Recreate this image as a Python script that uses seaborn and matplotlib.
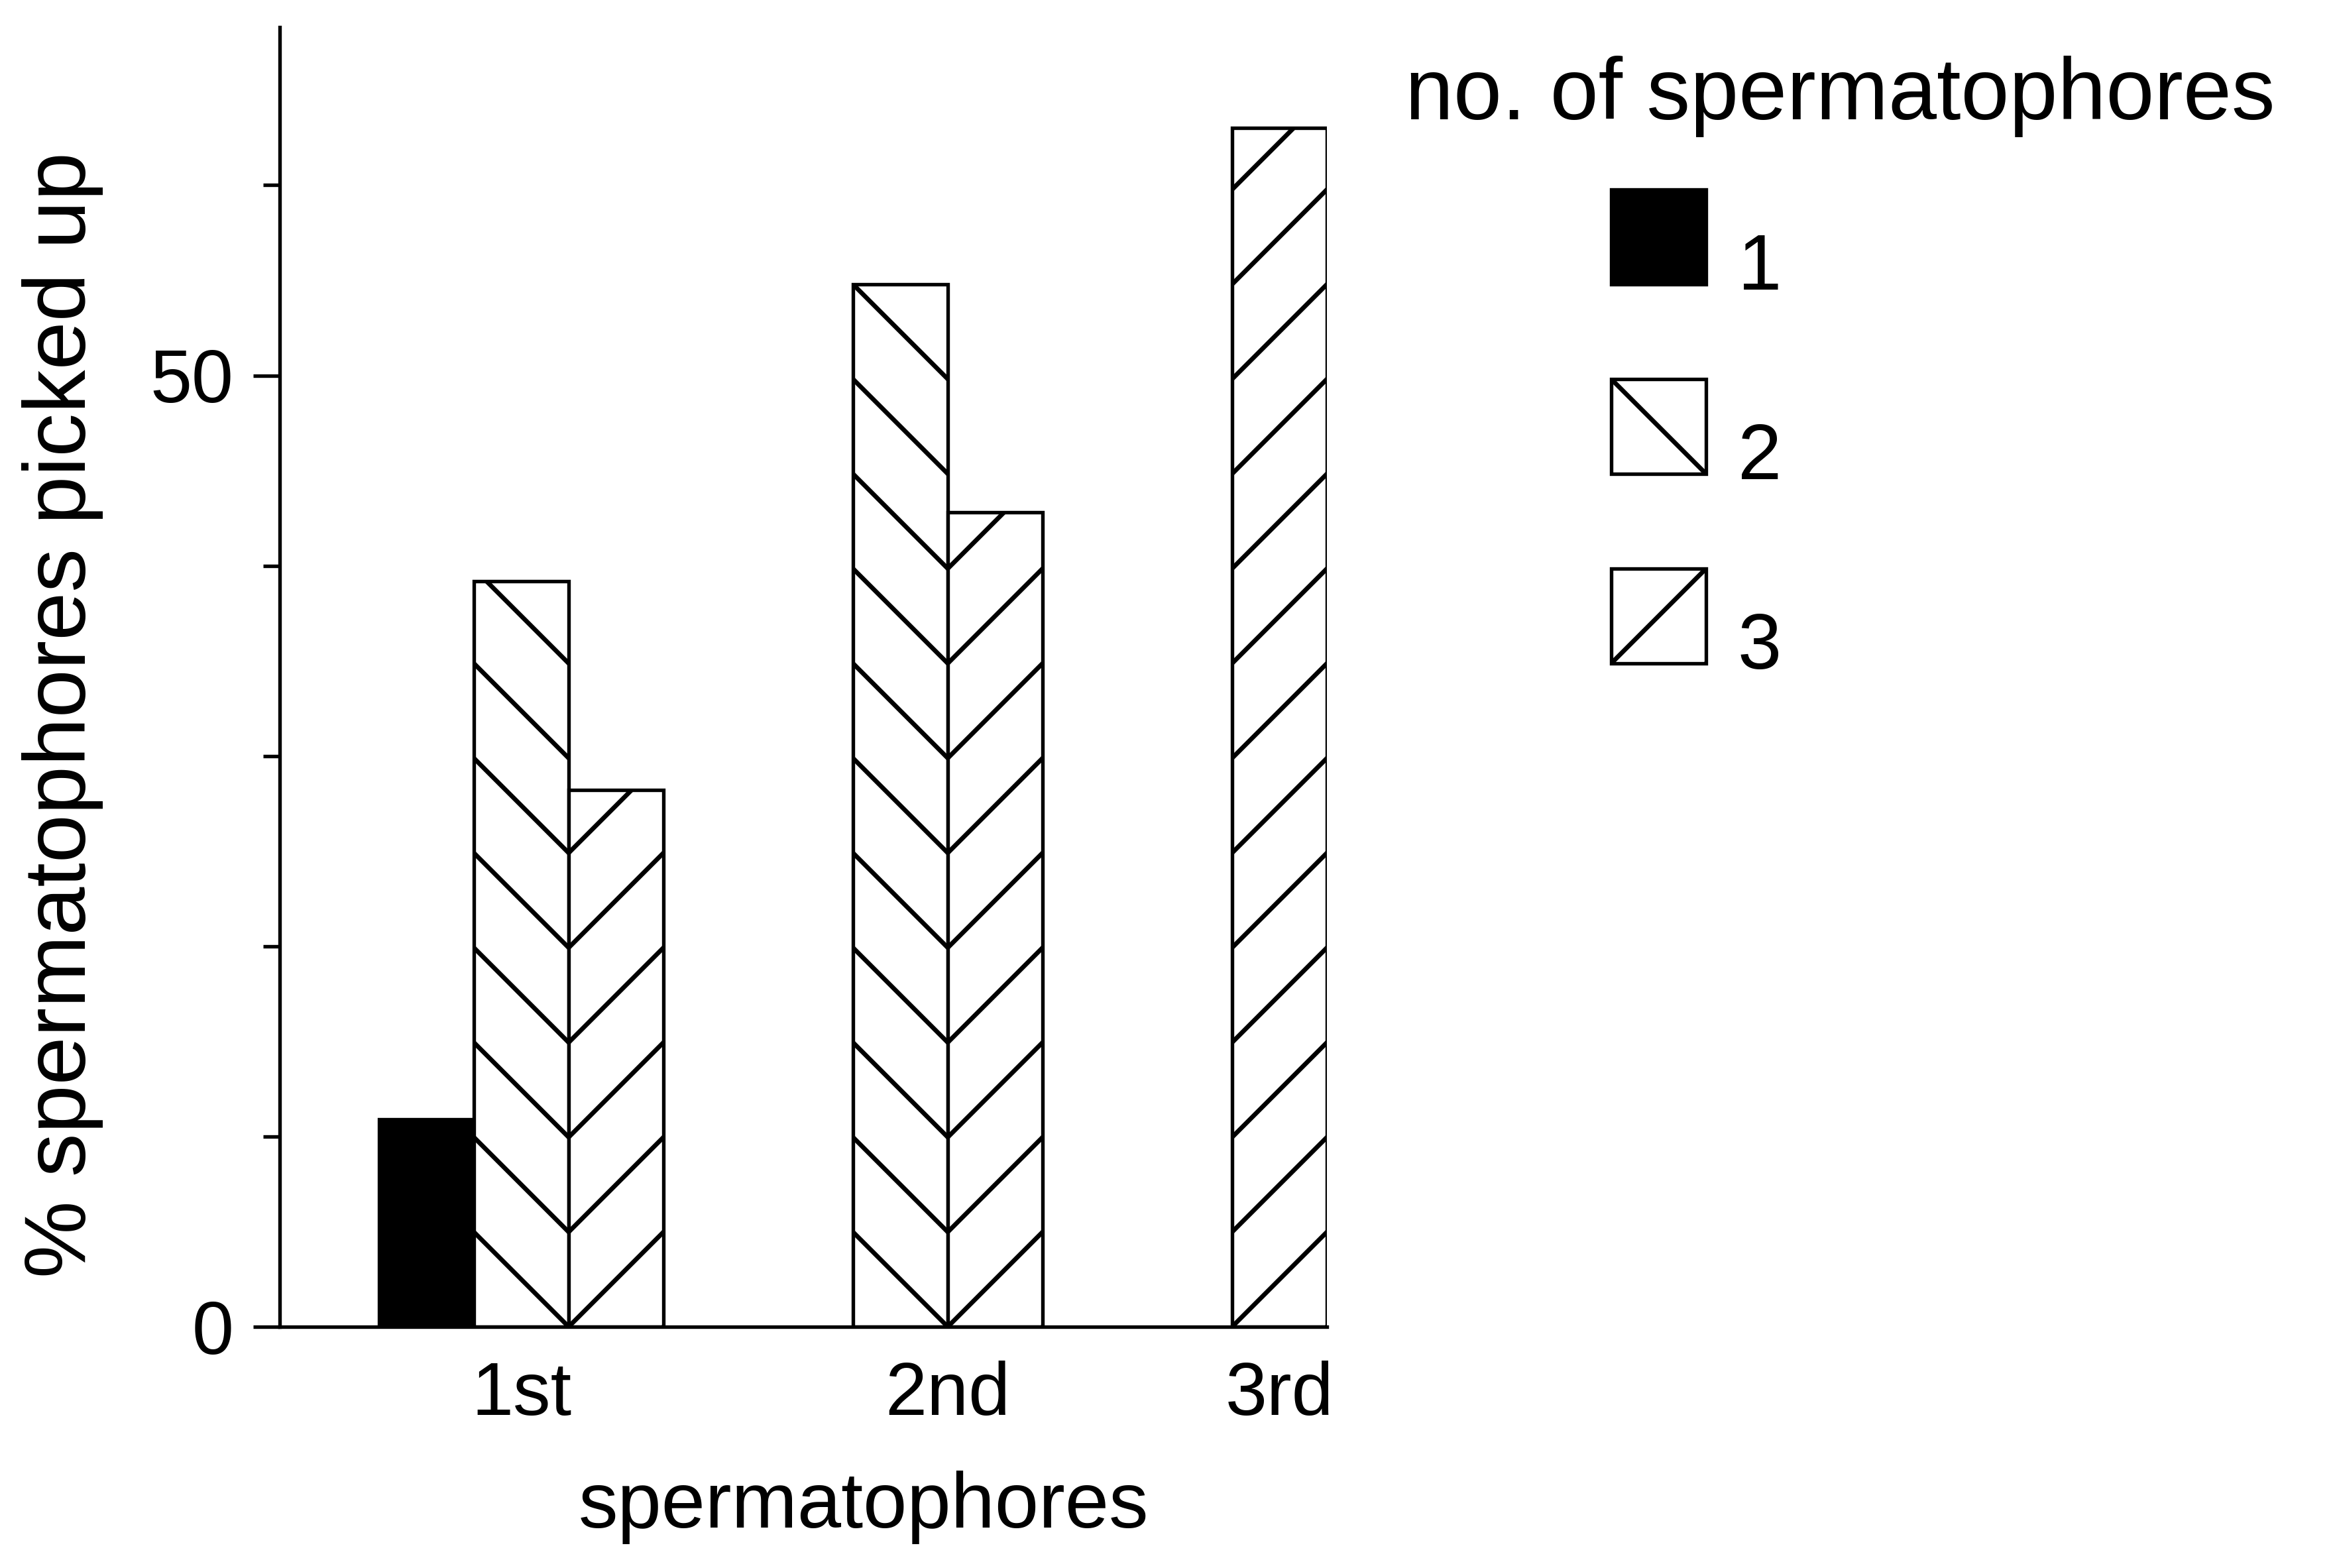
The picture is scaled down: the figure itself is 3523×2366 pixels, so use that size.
import numpy as np
import pandas as pd
import matplotlib
matplotlib.use('Agg')
import matplotlib.pyplot as plt
import matplotlib.transforms as mtransforms
import seaborn as sns

# values (% picked up)
pickup_order = ['1st', '2nd', '3rd']
pickup = ['1st', '1st', '1st', '2nd', '2nd', '3rd']
n_sperm = ['1', '2', '3', '2', '3', '3']
percent = [10.9, 39.2, 28.2, 54.8, 42.8, 63.0]

n_levels = ['1', '2', '3']
fills = {'1': 'black', '2': 'white', '3': 'white'}
hatches = {'1': '', '2': '\\', '3': '/'}

# first bar slot of each group, counted in bar widths
group_start = {'1st': 0, '2nd': 4, '3rd': 7}

df = pd.DataFrame({'pickup': pickup, 'n': n_sperm, 'percent': percent})
df['slot'] = df['pickup'].map(group_start) + df['n'].astype(int) - 1
tick_pos = df.groupby('pickup')['slot'].mean().reindex(pickup_order)
slot_to_n = dict(zip(df['slot'], df['n']))

# geometry in pixels. agg hatch lines repeat every dpi/3 px, so one bar = one hatch period
DPI = 429
FIG_W, FIG_H = 3524, 2366
BAR_PX = DPI / 3
X_LEFT, X_RIGHT = -1.548, 9.5
Y_TOP = 68.3
PX_PER_UNIT = 28.71
EDGE_X, BASE_Y = 6 * BAR_PX, 14 * BAR_PX   # edge between bar 2 and 3 of '1st', baseline (from top)
FS = 20
FS_PX = FS * DPI / 72

sns.set_style('ticks')
plt.rcParams['font.family'] = ['Liberation Sans', 'DejaVu Sans']
plt.rcParams['hatch.linewidth'] = 1.15
plt.rcParams['axes.linewidth'] = 0.9
for key in ['text.color', 'axes.labelcolor', 'xtick.color', 'ytick.color', 'axes.edgecolor']:
    plt.rcParams[key] = 'black'

fig = plt.figure(figsize=(FIG_W / DPI, FIG_H / DPI), dpi=DPI)
ax_l = EDGE_X - (1.5 - X_LEFT) * BAR_PX
ax_w = (X_RIGHT - X_LEFT) * BAR_PX
ax_h = Y_TOP * PX_PER_UNIT
ax = fig.add_axes([ax_l / FIG_W, (FIG_H - BASE_Y) / FIG_H, ax_w / FIG_W, ax_h / FIG_H])

sns.barplot(data=df, x='slot', y='percent', hue='n', hue_order=n_levels, palette=fills,
            native_scale=True, dodge=False, width=1, saturation=1, errorbar=None,
            edgecolor='black', linewidth=0.9, legend=False, ax=ax)

handles = {}
for bar in ax.patches:
    n = slot_to_n[int(round(bar.get_x() + bar.get_width() / 2))]
    bar.set_hatch(hatches[n])
    handles.setdefault(n, bar)

ax.set_xlim(X_LEFT, X_RIGHT)
ax.set_ylim(0, Y_TOP)
sns.despine(ax=ax)

ax.set_yticks([0, 50])
ax.set_yticks([10, 20, 30, 40, 60], minor=True)
ax.tick_params(axis='y', which='major', length=6.7, width=0.9, pad=5, labelsize=19)
ax.tick_params(axis='y', which='minor', length=4.2, width=0.9)
ax.set_xticks(tick_pos.values, tick_pos.index)
ax.tick_params(axis='x', length=0, pad=8.5, labelsize=19)

ax.set_xlabel('spermatophores', fontsize=FS)
ax.xaxis.set_label_coords(1303 / FIG_W, 1 - 2305 / FIG_H, transform=fig.transFigure)
ax.xaxis.label.set_va('baseline')
ax.set_ylabel('% spermatophores picked up', fontsize=22)
ax.yaxis.set_label_coords(95 / FIG_W, 1 - 1079 / FIG_H, transform=fig.transFigure)
ax.yaxis.label.set_va('center')

fig.text(2120 / FIG_W, 1 - 180 / FIG_H, 'no. of spermatophores', fontsize=22, ha='left', va='baseline')

# legend draws the box shorter than handleheight by its descent; solve for a square box
hh = (BAR_PX / FS_PX - 0.245) / 0.65
text_drop = 0.35 * FS_PX * (hh - 0.7) + 8


def make_legend(spacing, x_px, y_px):
    lg = ax.legend([handles[k] for k in n_levels], n_levels, loc='upper left',
                   bbox_to_anchor=(x_px / FIG_W, 1 - y_px / FIG_H), bbox_transform=fig.transFigure,
                   frameon=False, fontsize=FS, handlelength=BAR_PX / FS_PX, handleheight=hh,
                   labelspacing=spacing, handletextpad=0.4, borderpad=0, borderaxespad=0)
    for t in lg.get_texts():
        t.set_transform(t.get_transform() + mtransforms.Affine2D().translate(0, -text_drop))
    return lg


# legend boxes: two hatch periods apart, and snapped to the hatch grid so each shows one diagonal
leg_x, leg_y = 2431, 300
leg = make_legend(1.0, leg_x, leg_y)
fig.canvas.draw()
b0, b1 = [h.get_window_extent() for h in leg.legend_handles[:2]]
pitch = b0.y0 - b1.y0
leg.remove()
leg = make_legend(1.0 + (2 * BAR_PX - pitch) / FS_PX, leg_x, leg_y)
fig.canvas.draw()
b1 = leg.legend_handles[1].get_window_extent()
hx, hy = b1.x0, FIG_H - b1.y1
leg_x += round(hx / BAR_PX) * BAR_PX - hx
leg_y += round(hy / BAR_PX) * BAR_PX - hy
leg.set_bbox_to_anchor((leg_x / FIG_W, 1 - leg_y / FIG_H), transform=fig.transFigure)

fig.savefig('out.png', dpi=DPI, facecolor='white')
